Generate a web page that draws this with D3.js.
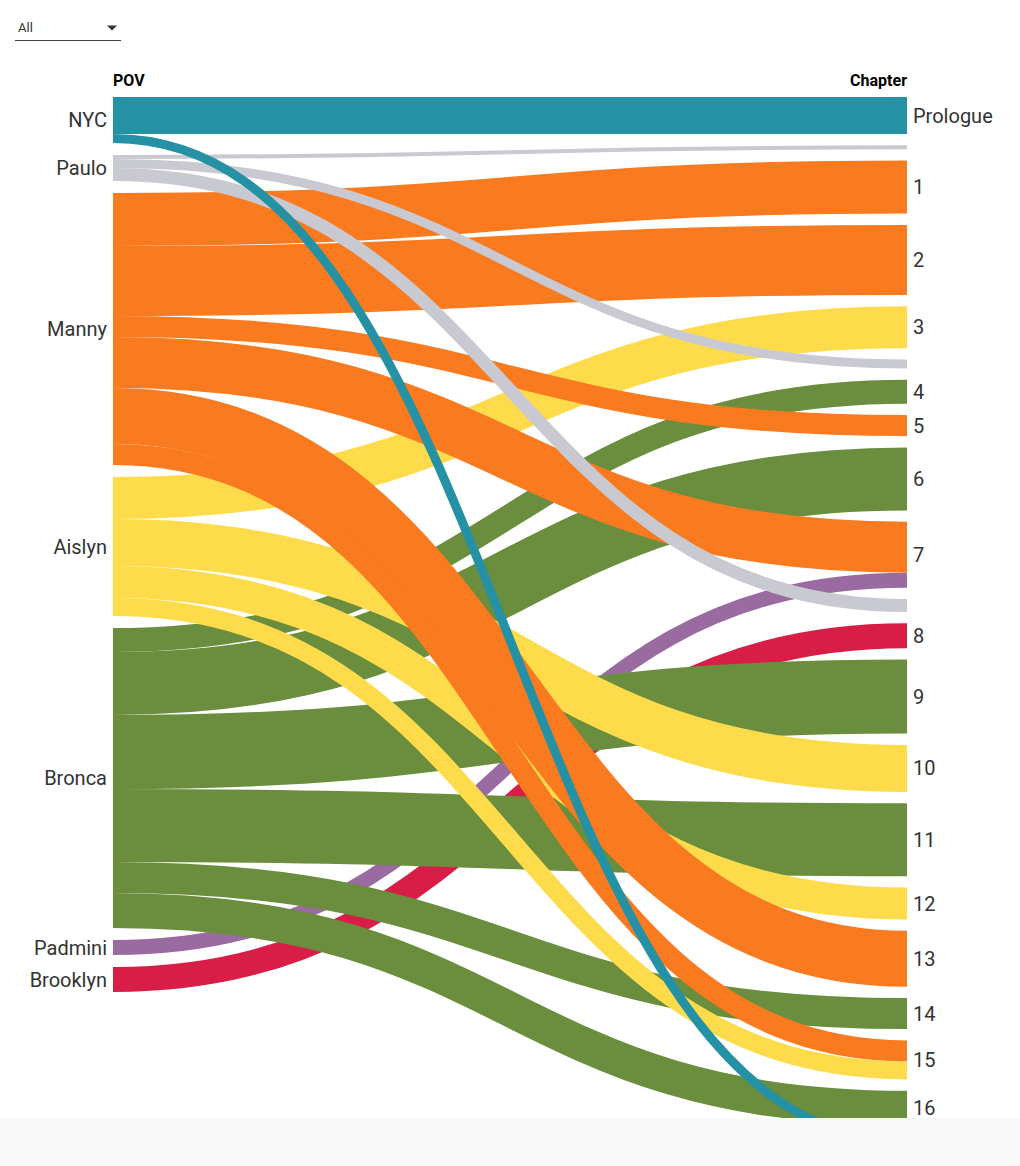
<!DOCTYPE html>
<html>
<head>
<meta charset="utf-8">
<script src="https://cdn.jsdelivr.net/npm/d3@7"></script>
<style>
  html, body { margin: 0; padding: 0; background: #fff; overflow: hidden; }
  body { font-family: Roboto, "Noto Sans", sans-serif; width: 1020px; height: 1166px; position: relative; }
  #footer { position: absolute; left: 0; top: 1118px; width: 1020px; height: 48px; background: #f8f8f8; z-index: 2; }
  svg { display: block; position: absolute; left: 0; top: 0; }
</style>
</head>
<body>
<svg id="chart" width="1020" height="1166"></svg>
<div id="footer"></div>
<script>
// ---------- data ----------
const povs = ["NYC", "Paulo", "Manny", "Aislyn", "Bronca", "Padmini", "Brooklyn"];
const povColors = ["#2591a5", "#c9c9d1", "#f97a1f", "#fedb4a", "#6a8e3e", "#9a6ba0", "#d81e46"];

const chapters = ["Prologue", "Interruption 1", "1", "2", "3", "Interruption 2", "4", "5", "6", "7",
                  "Interruption 3", "8", "9", "10", "11", "12", "13", "14", "15", "16", "Coda"];
const chapterLabels = ["Prologue", "", "1", "2", "3", "", "4", "5", "6", "7",
                       "", "8", "9", "10", "11", "12", "13", "14", "15", "16", ""];

// [POV, chapter, length]
const flows = [
  ["NYC", "Prologue", 37],
  ["Paulo", "Interruption 1", 4],
  ["Manny", "1", 53],
  ["Manny", "2", 70],
  ["Aislyn", "3", 42],
  ["Paulo", "Interruption 2", 9],
  ["Bronca", "4", 24],
  ["Manny", "5", 21],
  ["Bronca", "6", 63],
  ["Manny", "7", 51],
  ["Padmini", "7", 15],
  ["Paulo", "Interruption 3", 13],
  ["Brooklyn", "8", 25],
  ["Bronca", "9", 74],
  ["Aislyn", "10", 47],
  ["Bronca", "11", 73],
  ["Aislyn", "12", 32],
  ["Manny", "13", 56],
  ["Bronca", "14", 31],
  ["Manny", "15", 21],
  ["Aislyn", "15", 18],
  ["Bronca", "16", 35],
  ["NYC", "Coda", 9]
];

const dropdownOptions = ["All"];

// ---------- layout ----------
const svg = d3.select("#chart");
const x0 = 113, x1 = 907, yTop = 97, yBottom = 1146;
const padRight = 11.3, padLeft = 12;

const totalRight = d3.sum(flows, d => d[2]);
const valueScale = d3.scaleLinear()
  .domain([0, totalRight])
  .range([0, (yBottom - yTop) - padRight * (chapters.length - 1)]);

const colorScale = d3.scaleOrdinal().domain(povs).range(povColors);

function stackNodes(names, key, pad) {
  const nodes = [];
  let y = yTop;
  names.forEach(name => {
    const v = d3.sum(flows.filter(f => f[key] === name), f => f[2]);
    const h = valueScale(v);
    nodes.push({ name, y0: y, y1: y + h });
    y += h + pad;
  });
  return nodes;
}
const leftNodes = stackNodes(povs, 0, padLeft);
const rightNodes = stackNodes(chapters, 1, padRight);
const leftMap = new Map(leftNodes.map(n => [n.name, n]));
const rightMap = new Map(rightNodes.map(n => [n.name, n]));

// link offsets
const links = flows.map(f => ({ pov: f[0], chapter: f[1], value: f[2], width: valueScale(f[2]) }));
povs.forEach(p => {
  let y = leftMap.get(p).y0;
  links.filter(l => l.pov === p)
       .sort((a, b) => chapters.indexOf(a.chapter) - chapters.indexOf(b.chapter))
       .forEach(l => { l.sy = y + l.width / 2; y += l.width; });
});
chapters.forEach(c => {
  let y = rightMap.get(c).y0;
  links.filter(l => l.chapter === c)
       .sort((a, b) => povs.indexOf(a.pov) - povs.indexOf(b.pov))
       .forEach(l => { l.ty = y + l.width / 2; y += l.width; });
});

const linkGen = d3.linkHorizontal().source(d => [x0, d.sy]).target(d => [x1, d.ty]);

svg.append("g")
  .attr("fill", "none")
  .selectAll("path")
  .data(links)
  .join("path")
  .attr("d", linkGen)
  .attr("stroke", d => colorScale(d.pov))
  .attr("stroke-width", d => d.width);

// node labels
svg.append("g")
  .selectAll("text")
  .data(leftNodes)
  .join("text")
  .attr("x", x0 - 6)
  .attr("y", d => (d.y0 + d.y1) / 2)
  .attr("dy", "0.35em")
  .attr("text-anchor", "end")
  .attr("font-size", 20)
  .attr("fill", "#333")
  .text(d => d.name);

svg.append("g")
  .selectAll("text")
  .data(rightNodes.filter((d, i) => chapterLabels[i] !== ""))
  .join("text")
  .attr("x", x1 + 6)
  .attr("y", d => (d.y0 + d.y1) / 2)
  .attr("dy", "0.35em")
  .attr("font-size", 20)
  .attr("fill", "#333")
  .text(d => chapterLabels[chapters.indexOf(d.name)]);

// column headers
svg.append("text").attr("x", x0).attr("y", 86)
  .attr("font-size", 16).attr("font-weight", "bold").attr("fill", "#000").text("POV");
svg.append("text").attr("x", x1).attr("y", 86).attr("text-anchor", "end")
  .attr("font-size", 16).attr("font-weight", "bold").attr("fill", "#000").text("Chapter");

// dropdown
const dd = svg.append("g");
dd.append("text").attr("x", 18).attr("y", 32).attr("font-size", 13).attr("fill", "#333").text(dropdownOptions[0]);
dd.append("path").attr("d", "M107,25.5L117,25.5L112,30.5Z").attr("fill", "#333");
dd.append("line").attr("x1", 15).attr("x2", 121).attr("y1", 40.5).attr("y2", 40.5)
  .attr("stroke", "#444").attr("stroke-width", 1);
</script>
</body>
</html>
